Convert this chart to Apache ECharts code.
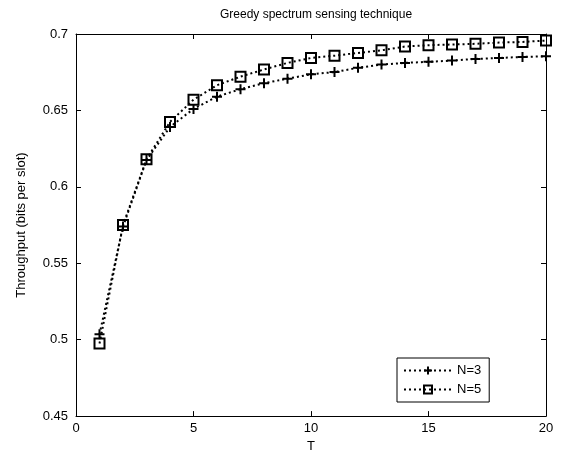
<!DOCTYPE html>
<html><head><meta charset="utf-8">
<script src="https://cdn.jsdelivr.net/npm/echarts@6/dist/echarts.min.js"></script>
<style>html,body{margin:0;padding:0;background:#fff}#c{width:570px;height:458px}</style>
</head><body><div id="c"></div>
<script>
const T = [1,2,3,4,5,6,7,8,9,10,11,12,13,14,15,16,17,18,19,20];
const n3 = [0.5035,0.574,0.6175,0.6392,0.651,0.659,0.6639,0.6678,0.6708,0.6736,0.6751,0.6779,0.680,0.6811,0.6818,0.6826,0.6837,0.6843,0.685,0.6854];
const n5 = [0.4975,0.575,0.618,0.6425,0.657,0.6665,0.6721,0.6768,0.6811,0.6843,0.6858,0.6876,0.6893,0.6918,0.6927,0.6931,0.6936,0.6944,0.6948,0.6957];
const seriesNames = ['N=3','N=5'];
const titleText = 'Greedy spectrum sensing technique';
const xName = 'T';
const yName = 'Throughput (bits per slot)';

const font = 'Liberation Sans, Arial, sans-serif';
const plus = 'path://M0,5L10,5M5,0L5,10';
const square = 'path://M0,0L10,0L10,10L0,10Z';
function pairs(v){ return T.map((t,i)=>[t,v[i]]); }
const axisCommon = {
  axisLine:{show:true,onZero:false,lineStyle:{color:'#000',width:1}},
  axisTick:{show:true,inside:true,length:5,lineStyle:{color:'#000'}},
  splitLine:{show:false}
};
const chart = echarts.init(document.getElementById('c'));
chart.setOption({
  animation:false,
  backgroundColor:'#fff',
  title:{text:titleText,left:311,textAlign:'center',top:4,textStyle:{fontFamily:font,fontSize:12,fontWeight:'normal',color:'#000'}},
  grid:{left:76,right:24,top:34,bottom:36},
  xAxis:[
    Object.assign({type:'value',min:0,max:20,interval:5,position:'bottom',name:xName,nameLocation:'middle',nameGap:22,
      nameTextStyle:{fontFamily:font,fontSize:13,color:'#000'},
      axisLabel:{fontFamily:font,fontSize:13,color:'#000',margin:6}},axisCommon),
    Object.assign({type:'value',min:0,max:20,interval:5,position:'top',axisLabel:{show:false}},axisCommon)
  ],
  yAxis:[
    Object.assign({type:'value',min:0.45,max:0.7,interval:0.05,position:'left',name:yName,nameLocation:'middle',nameGap:48,
      nameTextStyle:{fontFamily:font,fontSize:13,color:'#000'},
      axisLabel:{fontFamily:font,fontSize:13,color:'#000',margin:8,formatter:v=>String(parseFloat(v.toFixed(2)))}},axisCommon),
    Object.assign({type:'value',min:0.45,max:0.7,interval:0.05,position:'right',axisLabel:{show:false}},axisCommon)
  ],
  legend:{
    orient:'vertical',left:397,top:358,width:98,
    padding:[6,8,6,6],itemGap:6,itemWidth:48,itemHeight:10,
    borderColor:'#000',borderWidth:1,backgroundColor:'#fff',
    textStyle:{fontFamily:font,fontSize:13,color:'#000'},
    data:seriesNames
  },
  series:[
    {name:seriesNames[0],type:'line',data:pairs(n3),symbol:plus,symbolSize:10,
      lineStyle:{color:'#000',width:2,type:[2,3]},
      itemStyle:{color:'none',borderColor:'#000',borderWidth:2}},
    {name:seriesNames[1],type:'line',data:pairs(n5),symbol:square,symbolSize:10,
      lineStyle:{color:'#000',width:2,type:[2,3]},
      itemStyle:{color:'none',borderColor:'#000',borderWidth:2}}
  ]
});
</script></body></html>
